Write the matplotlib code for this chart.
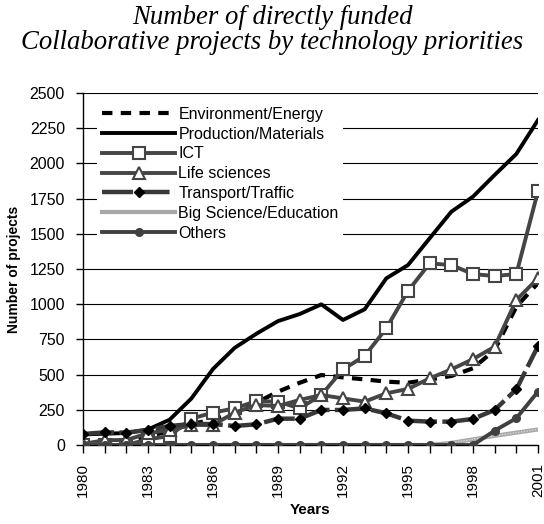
import matplotlib
matplotlib.use("Agg")
import matplotlib.pyplot as plt
import numpy as np

years = list(range(1980, 2002))
environment = [5, 10, 15, 60, 100, 150, 180, 240, 300, 379, 442, 497, 480, 466, 450, 442, 465, 490, 545, 675, 982, 1150]
production = [75, 80, 85, 110, 180, 330, 540, 690, 790, 880, 930, 999, 888, 964, 1184, 1278, 1468, 1657, 1764, 1918, 2067, 2308]
ict = [0, 0, 0, 40, 64, 187, 230, 260, 312, 308, 260, 355, 537, 632, 829, 1094, 1290, 1278, 1214, 1200, 1214, 1804]
life = [7, 35, 35, 83, 107, 142, 142, 230, 284, 277, 320, 355, 331, 308, 367, 398, 473, 537, 610, 698, 1030, 1184]
transport = [78, 90, 88, 107, 135, 149, 149, 135, 147, 187, 187, 249, 249, 260, 225, 173, 166, 166, 185, 249, 395, 703]
bigscience = [0, 0, 0, 0, 0, 0, 0, 0, 0, 0, 0, 0, 0, 0, 0, 0, 0, 15, 40, 65, 88, 110]
others = [0, 0, 0, 0, 0, 0, 0, 0, 0, 0, 0, 0, 0, 0, 0, 0, 0, 0, 0, 102, 190, 379]

xtick_labels = [str(y) for y in range(1980, 2002, 3)]
yticks = list(range(0, 2501, 250))
title_lines = ['Number of directly funded', 'Collaborative projects by technology priorities']

plt.rcParams['font.family'] = ['Liberation Sans', 'DejaVu Sans']

fig = plt.figure(figsize=(5.44, 5.24), dpi=100)
ax = fig.add_axes([83/544, 1-445/524, (538-83)/544, (445-93)/524])

ax.plot(years, environment, color='black', lw=3, linestyle=(0, (2.5, 2)),
        label='Environment/Energy', zorder=3)
ax.plot(years, production, color='black', lw=2.8, label='Production/Materials', zorder=3)
ax.plot(years, ict, color='#454545', lw=2.8, marker='s', ms=8, mfc='white',
        mec='#454545', mew=1.5, label='ICT', zorder=4)
ax.plot(years, life, color='#454545', lw=2.8, marker='^', ms=9, mfc='white',
        mec='#454545', mew=1.5, label='Life sciences', zorder=4)
ax.plot(years, transport, color='#383838', lw=3.2, linestyle=(0, (7, 1.2)),
        marker='D', ms=5, mfc='black', mec='black', label='Transport/Traffic', zorder=4)
ax.plot(years, bigscience, color='#a8a8a8', lw=3, label='Big Science/Education', zorder=4)
ax.plot(years, bigscience, color='#d8d8d8', lw=1, linestyle=(0, (1, 1)), zorder=4)
ax.plot(years, others, color='#404040', lw=2.8, marker='o', ms=5.5, mfc='#404040',
        mec='#404040', label='Others', zorder=4)

ax.set_xlim(1980, 2001)
ax.set_ylim(0, 2500)
ax.set_yticks(yticks)
ax.set_xticks(years, minor=True)
ax.set_xticks(list(range(1980, 2002, 3)))
ax.set_xticklabels(xtick_labels, rotation=90, fontsize=11)
ax.tick_params(axis='y', labelsize=11.4, length=5, width=1, pad=8, direction='out')
ax.tick_params(axis='x', which='both', length=6, width=1, direction='out', pad=7)
ax.grid(axis='y', color='black', lw=0.8)
ax.set_axisbelow(True)
for s in ['top', 'right']:
    ax.spines[s].set_visible(False)
ax.spines['left'].set_linewidth(1)
ax.spines['bottom'].set_linewidth(1)

ax.set_xlabel('Years', fontweight='bold', fontsize=11, labelpad=4)
ax.set_ylabel('Number of projects', fontweight='bold', fontsize=10, labelpad=6)

leg = ax.legend(loc='upper left', bbox_to_anchor=((97-83)/455, (445-102)/352), frameon=True,
                fontsize=11.5, handlelength=4.6, handletextpad=0.2, labelspacing=0.3,
                borderpad=0.3, borderaxespad=0.0)
leg.get_frame().set_facecolor('white')
leg.get_frame().set_edgecolor('none')
leg.get_frame().set_alpha(1)

fig.text(0.5, 1-17/524, title_lines[0], ha='center', va='center', fontsize=19.3,
         style='italic', family=['Liberation Serif', 'DejaVu Serif'])
fig.text(0.5, 1-43/524, title_lines[1], ha='center', va='center', fontsize=19.3,
         style='italic', family=['Liberation Serif', 'DejaVu Serif'])

fig.savefig('out.png', dpi=100)
